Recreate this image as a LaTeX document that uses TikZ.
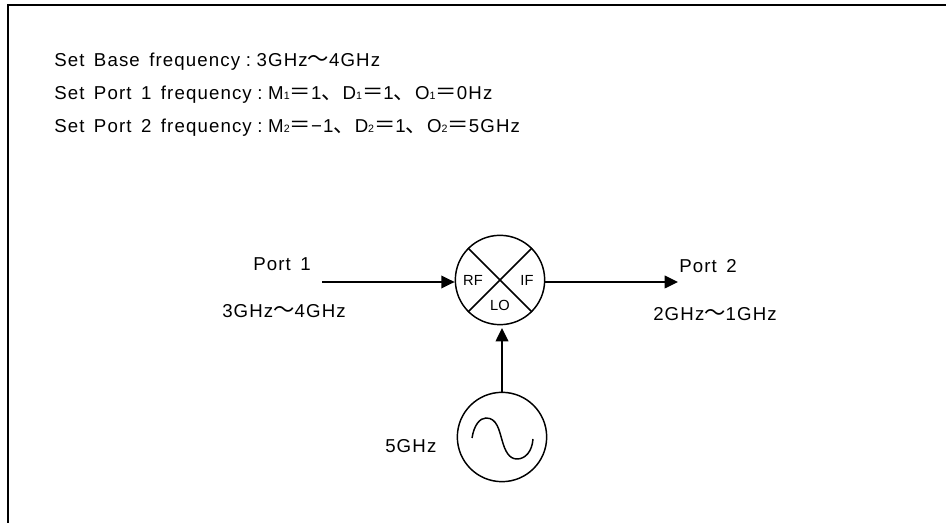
\documentclass[tikz,border=0pt]{standalone}
\usepackage{fontspec}
\setmainfont[LetterSpace=6,WordSpace=1.5]{Liberation Sans}
\newfontfamily\cjkfont{Noto Sans CJK JP}
\newfontfamily\plainfont{Liberation Sans}
\usepackage{tikz}
\usetikzlibrary{arrows.meta,positioning,calc}
\newcommand{\sepmark}{{\cjkfont\fontsize{16pt}{16pt}\selectfont 、}}
\newcommand{\eqmark}{{\cjkfont\fontsize{16pt}{16pt}\selectfont ＝}}
\newcommand{\tildemark}{{\cjkfont\fontsize{16pt}{16pt}\selectfont ～}}
\newcommand{\colonmark}{\hspace{0.3em}:\hspace{0.3em}}
\newcommand{\subdigit}[1]{{\plainfont\fontsize{8pt}{9pt}\selectfont #1}}

\begin{document}
\begin{tikzpicture}[x=0.75pt, y=-0.75pt,
    node distance=20pt,
    txt/.style={inner sep=0pt, font=\fontsize{14pt}{15pt}\selectfont, anchor=base west},
    lbl/.style={inner sep=0pt, font=\fontsize{14pt}{15pt}\selectfont},
    portname/.style={inner sep=0pt, font=\plainfont\fontsize{11pt}{13pt}\selectfont},
    roundbox/.style={circle, draw, line width=1.1pt, minimum size=67pt, inner sep=0pt},
    arrow/.style={-{Triangle[length=10pt,width=9.5pt]}, line width=1.1pt},
    wire/.style={line width=1.1pt}
]
\useasboundingbox (0,0) rectangle (946,523);

% Frame
\coordinate (framea) at (8,523);
\coordinate (frameb) at (8,5);
\coordinate (framec) at (946,5);
\draw[line width=1.5pt] (framea) -- (frameb) -- (framec);

% Settings
\node[txt] (base) at (54,67) {Set Base frequency\colonmark 3GHz\tildemark 4GHz};
\node[txt] (setone) at (54,100) {Set Port 1 frequency\colonmark M\subdigit{1}\eqmark 1\sepmark D\subdigit{1}\eqmark 1\sepmark O\subdigit{1}\eqmark 0Hz};
\node[txt] (settwo) at (54,133) {Set Port 2 frequency\colonmark M\subdigit{2}\eqmark −1\sepmark D\subdigit{2}\eqmark 1\sepmark O\subdigit{2}\eqmark 5GHz};

% Mixer
\node[roundbox] (mixer) at (500,280) {};
\draw[wire] (mixer.north west) -- (mixer.south east);
\draw[wire] (mixer.north east) -- (mixer.south west);
\node[portname] (rf) at (473,280) {RF};
\node[portname] (if) at (527,280) {IF};
\node[portname] (lo) at (500,305) {LO};

% Oscillator
\node[roundbox] (osc) at (502,437) {};
\draw[wire] (472,438) .. controls (474,425) and (480,418) .. (486,418)
    .. controls (497,418) and (499,430) .. (502,440)
    .. controls (505,451) and (509,459) .. (517,459)
    .. controls (525,459) and (532,452) .. (533,439);
\node[lbl, left=15pt of osc, yshift=-7pt] (lofreq) {5GHz};

% Ports
\coordinate (portin) at (322,282);
\coordinate (portout) at (678,282);
\coordinate (lotip) at (502,328);
\node[lbl] (portone) at (282,264) {Port 1};
\node[lbl] (freqone) at (284,311) {3GHz\tildemark 4GHz};
\node[lbl] (porttwo) at (708,266) {Port 2};
\node[lbl] (freqtwo) at (715,314) {2GHz\tildemark 1GHz};

% Arrows
\draw[arrow] (portin) -- (portin -| mixer.west);
\draw[arrow] (portout -| mixer.east) -- (portout);
\draw[arrow] (osc.north -| lotip) -- (lotip);

\end{tikzpicture}
\end{document}
